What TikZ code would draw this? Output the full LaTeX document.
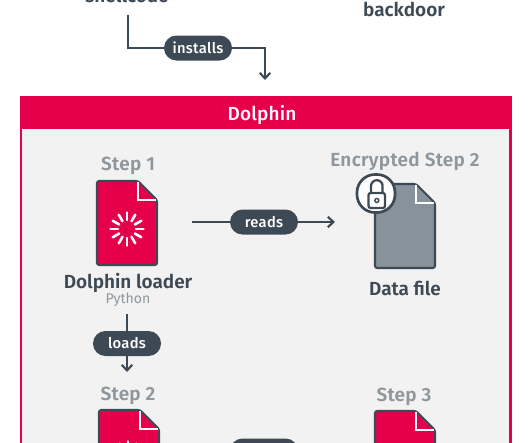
\documentclass[tikz,border=0pt]{standalone}
\usepackage{fontspec}
\setmainfont{Fira Sans}[BoldFont={Fira Sans SemiBold}]
\newfontfamily\pillfont{Fira Sans Medium}
\usetikzlibrary{arrows.meta, positioning, shapes.misc}
\definecolor{dolphinred}{HTML}{E6004C}
\definecolor{slatedark}{HTML}{3D4A55}
\definecolor{slategray}{HTML}{87929A}
\definecolor{steptext}{HTML}{8F979C}
\definecolor{panelgray}{HTML}{F2F2F2}
\tikzset{
  verbpill/.style={
    rounded rectangle, fill=slatedark, text=white, inner sep=0pt,
    font=\pillfont\fontsize{10.5}{12}\selectfont\addfontfeature{LetterSpace=2},
    minimum width=1.7cm, minimum height=0.625cm
  },
  verbarrow/.style={
    -{Straight Barb[length=1.4mm,width=2.6mm]}, line width=1.5pt, color=slatedark
  },
  steplabel/.style={
    font=\fontsize{13.5}{16}\selectfont\bfseries\addfontfeature{LetterSpace=1.5}, text=steptext, inner sep=0pt
  },
  filelabel/.style={
    font=\fontsize{13.5}{16}\selectfont\bfseries, text=slatedark, inner sep=0pt
  },
  sublabel/.style={
    font=\fontsize{10}{12}\selectfont, text=steptext, inner sep=0pt
  },
  filebase/.style={
    minimum width=1.5cm, minimum height=2.1cm, inner sep=0pt, outer sep=0pt
  },
  fileoutline/.style={
    draw=slatedark, line width=1.5pt, rounded corners=1.6pt, line join=round
  },
  spinnerspoke/.style={white, line width=1.8pt, line cap=round},
}
% one document icon, named #1, centred at #2, filled with #3
\newcommand{\docfile}[3]{
  \node[filebase] (#1) at (#2) {};
  \begin{scope}[shift={(#1.north west)}]
    \draw[fileoutline, fill=#3]
      (0,0) -- (41,0) -- (60,19) -- (60,84) -- (0,84) -- cycle;
    \draw[white, line width=1.5pt] (41,1) -- (41,19) -- (59,19);
  \end{scope}
}
\newcommand{\spinner}[1]{
  \foreach \a in {0,30,...,330}
    \draw[spinnerspoke] (#1) ++(\a:9) -- ++(\a:7.5);
}
\begin{document}
\begin{tikzpicture}[x=0.025cm, y=-0.025cm]
  \path[use as bounding box, fill=white] (0,0) rectangle (530,442);

  % Above the panel
  \node[filelabel] (shellcode) at (127,-5) {shellcode};
  \node[filelabel] (backdoor) at (404,9) {backdoor};

  % Panel
  \node[draw=dolphinred, line width=2.1pt, fill=panelgray, minimum width=12.225cm,
    minimum height=9.5cm, anchor=north west, inner sep=0pt] (panel) at (19.5,96) {};
  \node[fill=dolphinred, minimum width=12.3cm, minimum height=0.825cm,
    anchor=north west, inner sep=0pt] (panelhead) at (19.5,96) {};
  \node[text=white, font=\pillfont\fontsize{13.5}{16}\selectfont\addfontfeature{LetterSpace=1},
    inner sep=0pt] (paneltitle) at (262,114.5) {Dolphin};

  % Steps
  \node[steplabel] (step1) at (128,166) {Step 1};
  \docfile{loader}{127,223}{dolphinred}
  \spinner{127,229}
  \node[filelabel] (loadername) at (128,282.5) {Dolphin loader};
  \node[sublabel] (loaderlang) at (128,300) {Python};

  \node[steplabel] (encstep) at (405,161) {Encrypted Step 2};
  \docfile{datafile}{405,226}{slategray}
  \node[filelabel] (dataname) at (405,288) {Data file};

  % Lock badge
  \node[draw=slatedark, fill=white, line width=1.9pt, rounded corners=4.5mm,
    minimum size=0.95cm, inner sep=0pt] (lockbadge) at (376,193.5) {};
  \draw[slatedark, line width=1.6pt, rounded corners=1.5pt]
    (368.5,193) rectangle (385,208);
  \draw[slatedark, line width=1.6pt]
    (371,193) -- (371,186) arc[start angle=180, end angle=0, x radius=5.8, y radius=-5.8] -- (382.6,193);
  \draw[slatedark, line width=1pt] (376.8,200.5) circle[radius=2];

  \node[steplabel] (step2) at (128,396) {Step 2};
  \docfile{stage2}{129,452}{dolphinred}
  \spinner{128,458}

  \node[steplabel] (step3) at (404,397) {Step 3};
  \docfile{stage3}{405,453}{dolphinred}

  % Connectors
  \coordinate (installsfrom) at (128,15);
  \coordinate (installsbend) at (128,48);
  \coordinate (installsturn) at (265,48);
  \coordinate (installsto) at (265,80);
  \draw[verbarrow] (installsfrom) -- (installsbend) -- (installsturn) -- (installsto);
  \node[verbpill] (installs) at (198,48) {installs};

  \coordinate (readsfrom) at (192,222);
  \coordinate (readsto) at (335,222);
  \draw[verbarrow] (readsfrom) -- (readsto);
  \node[verbpill] (reads) at (264,222) {reads};

  \coordinate (loadsfrom) at (127,314);
  \coordinate (loadsto) at (127,372);
  \draw[verbarrow] (loadsfrom) -- (loadsto);
  \node[verbpill] (loads) at (127,343.5) {loads};

  \node[verbpill] (nextpill) at (264,451) {};
\end{tikzpicture}
\end{document}
